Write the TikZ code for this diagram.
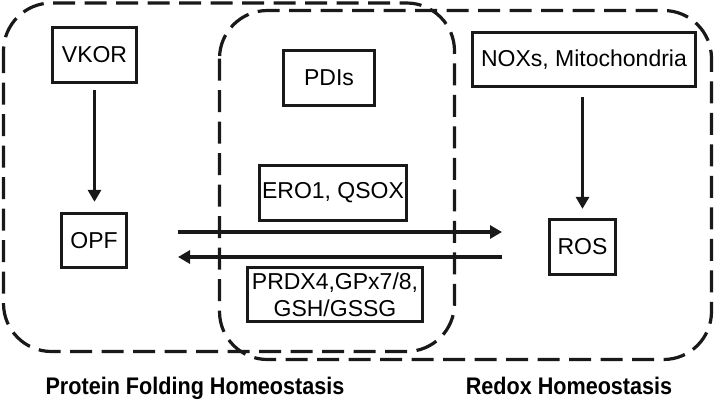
\documentclass[tikz,border=0pt]{standalone}
\usepackage{fontspec}
\usepackage{graphicx}
\setmainfont{Liberation Sans}
\usetikzlibrary{arrows.meta}
\newcommand{\condensed}[1]{\scalebox{0.9}[1]{#1}}
\begin{document}
\begin{tikzpicture}[x=1pt,y=-1pt,
  region/.style={draw=black!90, line width=3.2pt, dash pattern=on 22pt off 9.5pt, rounded corners=48pt},
  box/.style={draw=black!90, line width=2.8pt, inner sep=0pt, font=\fontsize{23}{27}\selectfont, align=center},
  arr/.style={draw=black!90, line width=3.3pt, -{Triangle[length=12pt,width=13pt]}},
  lab/.style={font=\fontsize{24}{28}\selectfont\bfseries, anchor=base}]
\useasboundingbox (0,0) rectangle (714,405);
% regions
\draw[region] (3.5,3) rectangle (454.5,351.5);
\draw[region] (219.5,10.5) rectangle (711.5,359.5);
% boxes
\node[box, minimum width=84.5pt, minimum height=55.5pt] (vkor) at (94.5,55) {VKOR};
\node[box, minimum width=91.5pt, minimum height=55.5pt] (pdis) at (329,78) {PDIs};
\node[box, minimum width=223.5pt, minimum height=54.5pt] (nox) at (584,59.5) {NOXs, Mitochondria};
\node[box, minimum width=147.5pt, minimum height=55.5pt] (ero) at (333,193) {ERO1, QSOX};
\node[box, minimum width=175.5pt, minimum height=54.5pt] (prdx) at (335,294.5) {PRDX4,GPx7/8,\\GSH/GSSG};
\node[box, minimum width=65.5pt, minimum height=54.5pt] (opf) at (94,240.5) {OPF};
\node[box, minimum width=66.5pt, minimum height=55.5pt] (ros) at (582.5,247) {ROS};
% arrows
\draw[arr, shorten <=6pt, shorten >=10pt] (vkor.south) -- (vkor.south |- opf.north);
\draw[arr, shorten <=9pt, shorten >=9pt] (ros.north |- nox.south) -- (ros.north);
\coordinate (fwdA) at (178,232);
\coordinate (fwdB) at (502,232);
\coordinate (bckA) at (502,257);
\coordinate (bckB) at (178,257);
\draw[arr] (fwdA) -- (fwdB);
\draw[arr] (bckA) -- (bckB);
% labels
\node[lab] (lpf) at (195,394) {\condensed{Protein Folding Homeostasis}};
\node[lab] (lrh) at (569,394) {\condensed{Redox Homeostasis}};
\end{tikzpicture}
\end{document}
